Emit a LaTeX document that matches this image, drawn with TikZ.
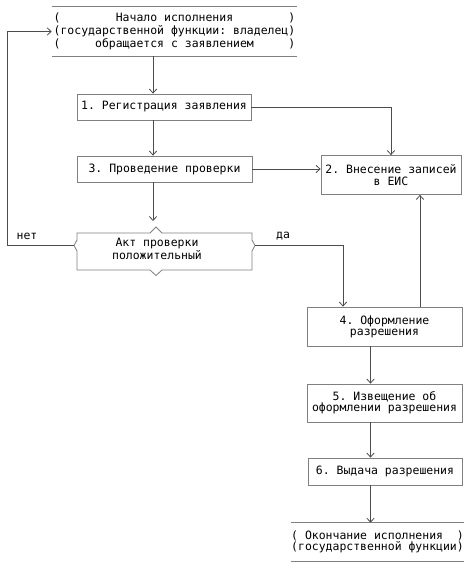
\documentclass[tikz,border=0pt]{standalone}
\usepackage{fontspec}
\newfontfamily\monofont{DejaVu Sans Mono}
\usetikzlibrary{arrows.meta}
\newcommand{\boxfont}{\monofont\frenchspacing\fontsize{8.6pt}{8.4pt}\selectfont}
\newcommand{\startfont}{\monofont\frenchspacing\fontsize{8.6pt}{9.9pt}\selectfont}
\frenchspacing
\begin{document}
\begin{tikzpicture}[x=0.75pt,y=-0.75pt,
  boxline/.style={draw=black!50, line width=0.6pt},
  stepbox/.style={boxline, rectangle, inner sep=0pt, align=center, font=\boxfont},
  term/.style={rectangle, inner sep=0pt, align=center, font=\startfont},
  arr/.style={draw=black!70, line width=0.6pt, -{Straight Barb[length=3pt,width=5.5pt]}},
  conn/.style={draw=black!70, line width=0.6pt},
  lbl/.style={font=\boxfont, inner sep=0pt}]
\fill[white] (0,0) rectangle (473,572);
\useasboundingbox (0,0) rectangle (473,572);

% column coordinates
\coordinate (colA) at (153,0);
\coordinate (colL) at (7,0);
\coordinate (colD) at (343,0);
\coordinate (colE) at (420,0);
\coordinate (colF) at (370.5,0);

% start terminator
\node[term, minimum width=183.75pt, minimum height=36.75pt] (start) at (174.5,31.5)
  {(~~~~~~~~Начало исполнения~~~~~~~~)\\(государственной функции: владелец)\\(~~~~~обращается с заявлением~~~~~)};
\draw[boxline] (start.north west) -- (start.north east);
\draw[boxline] (start.south west) -- (start.south east);

% boxes
\node[stepbox, minimum width=130.5pt, minimum height=19.5pt] (b1) at (164,107) {1. Регистрация заявления};
\node[stepbox, minimum width=131.25pt, minimum height=19.5pt] (b3) at (164.5,169) {3. Проведение проверки};
\node[stepbox, minimum width=105pt, minimum height=29.25pt] (b2) at (391,175) {2. Внесение записей\\в ЕИС};
\node[stepbox, minimum width=116.25pt, minimum height=29.25pt] (b4) at (384.5,326.5) {4. Оформление\\разрешения};
\node[stepbox, minimum width=116.25pt, minimum height=28.5pt] (b5) at (384.5,403) {5. Извещение об\\оформлении разрешения};
\node[stepbox, minimum width=115.5pt, minimum height=20.25pt] (b6) at (385,471.5) {6. Выдача разрешения};

% end terminator
\node[term, font=\boxfont, minimum width=128.25pt, minimum height=28.5pt] (end) at (377.5,542)
  {(~Окончание исполнения~~)\\(государственной функции)};
\draw[boxline] (end.north west) -- (end.north east);
\draw[boxline] (end.south west) -- (end.south east);

% decision
\node[lbl, align=center] (dec) at (157,249) {Акт проверки\\положительный};
\coordinate (decL) at (74,245.5);
\coordinate (decR) at (255,245.5);
\coordinate (decT) at (153,221);
\draw[boxline] (77,240) -- (77,233) -- (150,233) -- (156,227) -- (162,233) -- (252,233) -- (252,240);
\draw[boxline] (77,251) -- (77,270) -- (150,270) -- (156,275.5) -- (162,270) -- (252,270) -- (252,251);
\draw[boxline] (77,240) -- (decL) -- (77,251);
\draw[boxline] (252,240) -- (decR) -- (252,251);

% connectors
\draw[arr] (start.south -| colA) -- (b1.north -| colA);
\draw[arr] (b1.east) -| (b2.north);
\draw[arr] (b1.south -| colA) -- (b3.north -| colA);
\draw[arr] (b3.east) -- (b3.east -| b2.west);
\draw[arr] (b3.south -| colA) -- (decT);
\draw[arr] (decL) -- (decL -| colL) -- (colL |- start.west) -- (start.west);
\draw[arr] (decR) -| (b4.north -| colD);
\draw[arr] (b4.north -| colE) -- (b2.south -| colE);
\draw[arr] (b4.south -| colF) -- (b5.north -| colF);
\draw[arr] (b5.south -| colF) -- (b6.north -| colF);
\draw[arr] (b6.south -| colF) -- (end.north -| colF);

% labels
\node[lbl] (no) at (27,236) {нет};
\node[lbl] (yes) at (283,236) {да};
\end{tikzpicture}
\end{document}
